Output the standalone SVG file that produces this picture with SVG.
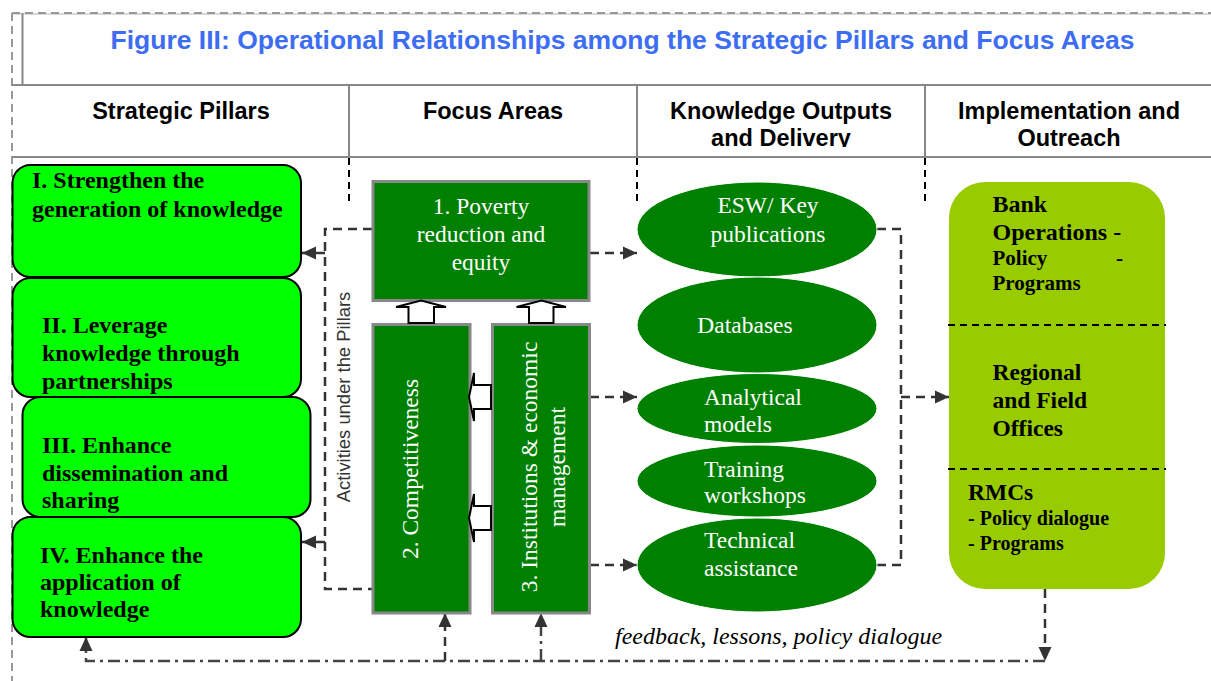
<svg xmlns="http://www.w3.org/2000/svg" width="1211" height="681" viewBox="0 0 1211 681">
  <defs>
    <style>
      .frame{fill:none;stroke:#999;stroke-width:2;stroke-dasharray:8 5}
      .rule{fill:none;stroke:#888;stroke-width:2}
      .title{font-family:"Liberation Sans",Arial,sans-serif;font-weight:bold;font-size:26.5px;fill:#3d6df2;text-anchor:middle}
      .hdr{font-family:"Liberation Sans",Arial,sans-serif;font-weight:bold;font-size:23.5px;fill:#000;text-anchor:middle}
      .tick{fill:none;stroke:#000;stroke-width:2;stroke-dasharray:7 5}
      .pillar rect{fill:#00ff00;stroke:#000;stroke-width:2}
      .pt{font-family:"Liberation Serif","Times New Roman",serif;font-weight:bold;font-size:24px;fill:#000}
      .fa rect{fill:#008000;stroke:#888;stroke-width:3}
      .wt{font-family:"Liberation Serif","Times New Roman",serif;font-size:23.5px;fill:#fff}
      .mid{text-anchor:middle}
      .ko ellipse{fill:#008000;stroke:#fff;stroke-width:1}
      .impl{fill:#99cc00}
      .div{fill:none;stroke:#000;stroke-width:2;stroke-dasharray:7 5}
      .bt{font-family:"Liberation Serif","Times New Roman",serif;font-weight:bold;fill:#000}
      .blk{fill:#fff;stroke:#000;stroke-width:2}
      .conn{fill:none;stroke:#333;stroke-width:2.5;stroke-dasharray:9 6}
      .fb{fill:none;stroke:#444;stroke-width:2.5;stroke-dasharray:12 5 3 5}
      .side{font-family:"Liberation Sans",Arial,sans-serif;font-size:18.4px;fill:#333;text-anchor:middle}
      .fbt{font-family:"Liberation Serif","Times New Roman",serif;font-style:italic;font-size:24px;fill:#000}
    </style>
    <marker id="ah" markerUnits="userSpaceOnUse" markerWidth="14" markerHeight="14" viewBox="0 0 14 14" refX="14" refY="7" orient="auto">
      <path d="M0,0.5 L14,7 L0,13.5 Z" fill="#333"/>
    </marker>
    <clipPath id="hdrclip"><rect x="0" y="85" width="1211" height="62"/></clipPath>
  </defs>

  <rect width="1211" height="681" fill="#fff"/>

  <!-- frame and header table -->
  <g id="frame">
    <line x1="12" y1="14" x2="1211" y2="14" stroke="#ccc" stroke-width="1.5"/>
    <line class="frame" x1="12" y1="13" x2="1211" y2="13"/>
    <line class="frame" x1="12" y1="13" x2="12" y2="681"/>
    <line class="rule" x1="22.5" y1="13" x2="22.5" y2="85"/>
    <line class="rule" x1="12" y1="85" x2="1211" y2="85"/>
    <line class="rule" x1="12" y1="157" x2="1211" y2="157"/>
    <line class="rule" x1="349" y1="85" x2="349" y2="157"/>
    <line class="rule" x1="637" y1="85" x2="637" y2="157"/>
    <line class="rule" x1="925" y1="85" x2="925" y2="157"/>
    <line class="tick" x1="349" y1="158" x2="349" y2="204"/>
    <line class="tick" x1="637" y1="158" x2="637" y2="205"/>
    <line class="tick" x1="925" y1="158" x2="925" y2="205"/>
    <text class="title" x="622.5" y="49">Figure III: Operational Relationships among the Strategic Pillars and Focus Areas</text>
    <text class="hdr" x="181" y="119">Strategic Pillars</text>
    <text class="hdr" x="493" y="119">Focus Areas</text>
    <text class="hdr" x="781" y="119" clip-path="url(#hdrclip)">Knowledge Outputs<tspan x="781" y="145.5">and Delivery</tspan></text>
    <text class="hdr" x="1069" y="119">Implementation and<tspan x="1069" y="145.5">Outreach</tspan></text>
  </g>

  <!-- connectors -->
  <g id="connectors">
    <path class="conn" d="M372,229 H325 V589 H372"/>
    <path class="conn" d="M325,253 H302" marker-end="url(#ah)"/>
    <path class="conn" d="M325,542 H302" marker-end="url(#ah)"/>
    <path class="conn" d="M590,253 H637" marker-end="url(#ah)"/>
    <path class="conn" d="M590,397 H637" marker-end="url(#ah)"/>
    <path class="conn" d="M590,565 H637" marker-end="url(#ah)"/>
    <path class="conn" d="M877,229 H901 V565 H877"/>
    <path class="conn" d="M901,397 H949" marker-end="url(#ah)"/>
    <path class="conn" d="M1045,589 V661" marker-end="url(#ah)"/>
    <path class="fb" d="M1045,661 H86 V637" marker-end="url(#ah)"/>
    <path class="conn" d="M445,661 V613" marker-end="url(#ah)"/>
    <path class="fb" d="M541,661 V613" marker-end="url(#ah)"/>
    <text class="side" transform="translate(350,397) rotate(-90)">Activities under the Pillars</text>
    <text class="fbt" x="615" y="644">feedback, lessons, policy dialogue</text>
  </g>

  <!-- strategic pillars -->
  <g id="pillar-1" class="pillar">
    <rect x="12.5" y="165" width="288.5" height="112" rx="18"/>
    <text class="pt" x="32" y="188">I. Strengthen the<tspan x="32" y="217">generation of knowledge</tspan></text>
  </g>
  <g id="pillar-2" class="pillar">
    <rect x="12.5" y="278" width="288.5" height="119" rx="18"/>
    <text class="pt" x="42" y="333">II. Leverage<tspan x="42" y="361">knowledge through</tspan><tspan x="42" y="389">partnerships</tspan></text>
  </g>
  <g id="pillar-3" class="pillar">
    <rect x="22.5" y="397" width="288" height="120" rx="18"/>
    <text class="pt" x="42" y="453">III. Enhance<tspan x="42" y="481">dissemination and</tspan><tspan x="42" y="508">sharing</tspan></text>
  </g>
  <g id="pillar-4" class="pillar">
    <rect x="12.5" y="517" width="288.5" height="120" rx="18"/>
    <text class="pt" x="40" y="563">IV. Enhance the<tspan x="40" y="590">application of</tspan><tspan x="40" y="617">knowledge</tspan></text>
  </g>

  <!-- focus areas -->
  <g id="focus-1" class="fa">
    <rect x="373" y="181.5" width="216" height="119"/>
    <text class="wt mid" x="481" y="214">1. Poverty<tspan x="481" y="242">reduction and</tspan><tspan x="481" y="270">equity</tspan></text>
  </g>
  <g id="focus-2" class="fa">
    <rect x="373" y="324.5" width="97" height="288.5"/>
    <text class="wt mid" transform="translate(418,469) rotate(-90)">2. Competitiveness</text>
  </g>
  <g id="focus-3" class="fa">
    <rect x="492.5" y="324.5" width="97" height="288.5"/>
    <text class="wt mid" transform="translate(537,467) rotate(-90)">3. Institutions &amp; economic<tspan x="0" y="28">management</tspan></text>
  </g>

  <!-- block arrows between focus areas -->
  <g id="focus-links">
    <path class="blk" d="M408.5,323 V307 H396 L421,300.5 L446,307 H434 V323 Z"/>
    <path class="blk" d="M529,323 V307 H516.5 L541.5,300.5 L566,307 H553.5 V323 Z"/>
    <path class="blk" d="M491,385 H474 V373 L469,397 L474,421 V409 H491 Z"/>
    <path class="blk" d="M491,506 H474 V494 L469,518 L474,542 V530 H491 Z"/>
  </g>

  <!-- knowledge outputs -->
  <g id="ko-1" class="ko">
    <ellipse cx="757" cy="229.5" rx="120" ry="47.5"/>
    <text class="wt mid" x="768" y="213">ESW/ Key<tspan x="768" y="242">publications</tspan></text>
  </g>
  <g id="ko-2" class="ko">
    <ellipse cx="757" cy="325" rx="120" ry="48"/>
    <text class="wt mid" x="745" y="333">Databases</text>
  </g>
  <g id="ko-3" class="ko">
    <ellipse cx="757" cy="408.5" rx="120" ry="35"/>
    <text class="wt" x="704" y="405">Analytical<tspan x="704" y="432">models</tspan></text>
  </g>
  <g id="ko-4" class="ko">
    <ellipse cx="757" cy="481" rx="120" ry="36"/>
    <text class="wt" x="704" y="477">Training<tspan x="704" y="503">workshops</tspan></text>
  </g>
  <g id="ko-5" class="ko">
    <ellipse cx="757" cy="565" rx="120" ry="47"/>
    <text class="wt" x="704" y="548">Technical<tspan x="704" y="576">assistance</tspan></text>
  </g>

  <!-- implementation and outreach -->
  <g id="outreach">
    <rect class="impl" x="949" y="182" width="216" height="407" rx="36"/>
    <line class="div" x1="948" y1="325" x2="1166" y2="325"/>
    <line class="div" x1="948" y1="469" x2="1166" y2="469"/>
    <text class="bt" font-size="24" x="992.5" y="212">Bank<tspan x="992.5" y="240">Operations -</tspan></text>
    <text class="bt" font-size="21" x="992.5" y="265">Policy<tspan x="1116" y="265">-</tspan><tspan x="992.5" y="290">Programs</tspan></text>
    <text class="bt" font-size="23.5" x="992.5" y="380">Regional<tspan x="992.5" y="408">and Field</tspan><tspan x="992.5" y="436">Offices</tspan></text>
    <text class="bt" font-size="23.5" x="968" y="500">RMCs</text>
    <text class="bt" font-size="20" x="968" y="525">- Policy dialogue<tspan x="968" y="550">- Programs</tspan></text>
  </g>
</svg>
